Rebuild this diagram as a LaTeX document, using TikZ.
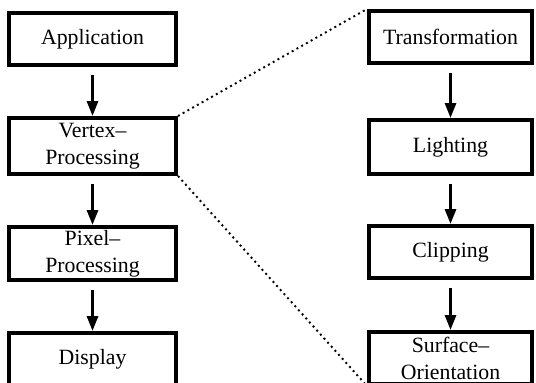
\documentclass[tikz,border=0pt]{standalone}
\usepackage{fontspec}
\setmainfont{Liberation Serif}
\usetikzlibrary{arrows.meta}

\tikzset{
  stage/.style={draw,line width=0.08cm,inner sep=0pt,align=center,
    font=\fontsize{12.4}{15.4}\selectfont},
  flow/.style={-{Triangle[length=0.3cm,width=0.22cm]},line width=0.06cm,shorten <=0.16cm},
  zoomline/.style={dotted,line width=1.1pt}
}

\begin{document}
\begin{tikzpicture}
  \useasboundingbox (0,0) rectangle (10.72,7.64);

  % pipeline
  \node[stage,minimum width=3.34cm,minimum height=1.04cm] (app) at (1.85,6.86) {Application};
  \node[stage,minimum width=3.34cm,minimum height=1.12cm] (vtx) at (1.85,4.72) {Vertex\textendash\\Processing};
  \node[stage,minimum width=3.34cm,minimum height=1.06cm] (pix) at (1.85,2.57) {Pixel\textendash\\Processing};
  \node[stage,minimum width=3.34cm,minimum height=1.04cm] (dsp) at (1.85,0.46) {Display};

  % vertex stage in detail
  \node[stage,minimum width=3.26cm,minimum height=1.04cm] (trf) at (9.01,6.90) {Transformation};
  \node[stage,minimum width=3.26cm,minimum height=1.08cm] (lgt) at (9.01,4.70) {Lighting};
  \node[stage,minimum width=3.26cm,minimum height=1.04cm] (clp) at (9.01,2.60) {Clipping};
  \node[stage,minimum width=3.26cm,minimum height=1.04cm] (srf) at (9.01,0.48) {Surface\textendash\\Orientation};

  \foreach \a/\b in {app/vtx,vtx/pix,pix/dsp,trf/lgt,lgt/clp,clp/srf}
    \draw[flow] (\a) -- (\b);

  \draw[zoomline] (vtx.north east) -- (trf.north west);
  \draw[zoomline] (vtx.south east) -- (srf.south west);
\end{tikzpicture}
\end{document}
